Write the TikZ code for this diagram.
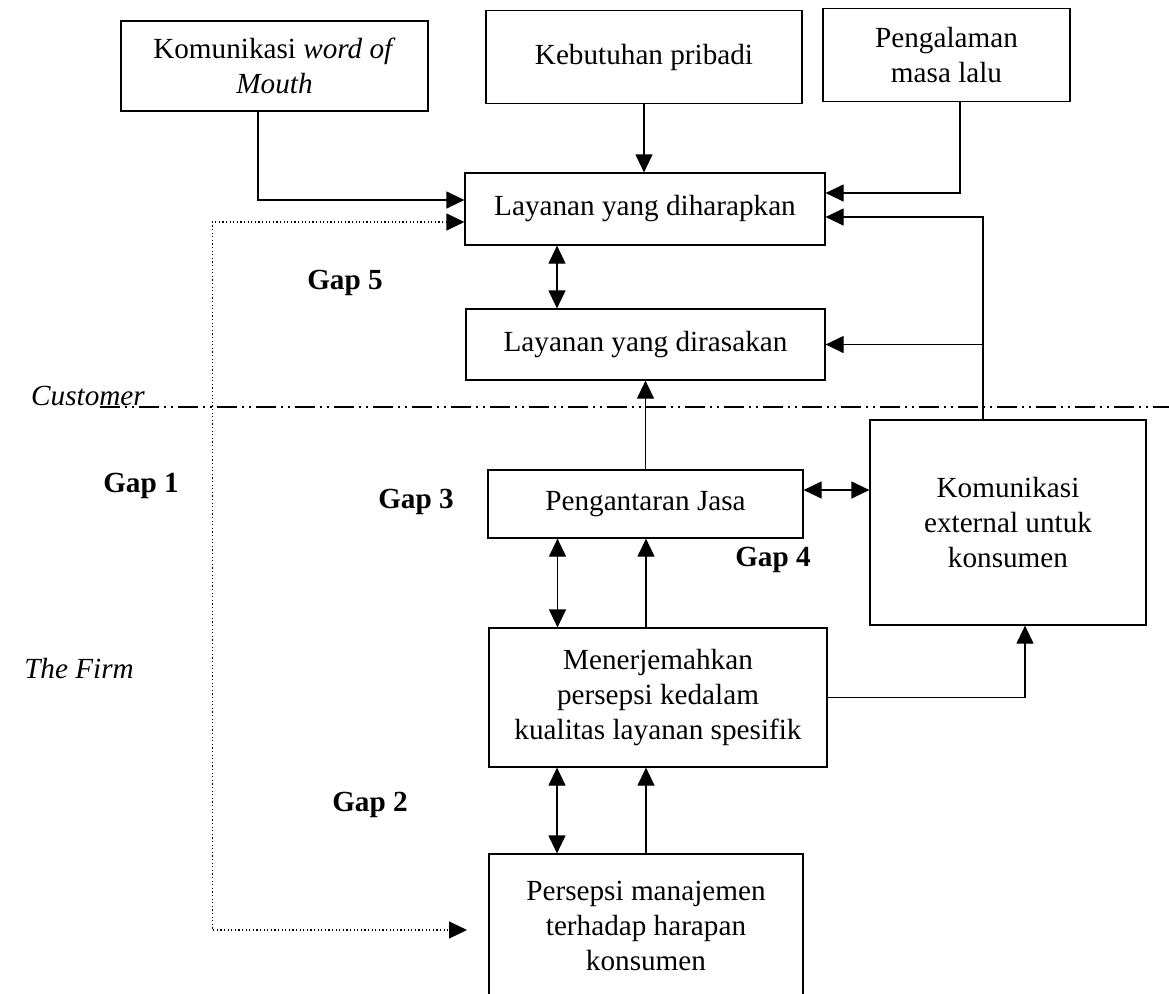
\documentclass[tikz,border=0pt]{standalone}
\usepackage{fontspec}
\setmainfont{Liberation Serif}
\usetikzlibrary{arrows.meta}

\newcommand{\boxfont}{\fontsize{14.6}{17.5}\selectfont}

\tikzset{
  box/.style={draw,line width=0.6pt,align=center,inner sep=0pt},
  sized/.style 2 args={minimum width=#1*0.5pt,minimum height=#2*0.5pt},
  tip/.tip={Triangle[length=9pt,width=8.5pt]},
  arr/.style={line width=0.6pt,-tip},
  dbl/.style={line width=0.6pt,tip-tip},
  dotarr/.style={line width=0.6pt,dash pattern=on 0.6pt off 1.2pt,tip-tip},
  sepline/.style={line width=0.6pt,dash pattern=on 10pt off 2.5pt on 1pt off 2.5pt on 1pt off 2.5pt},
  gaplbl/.style={font=\boxfont\bfseries},
  sidelbl/.style={font=\boxfont\itshape},
}

\begin{document}
\begin{tikzpicture}[x=0.5pt,y=-0.5pt,line join=miter,font=\boxfont]
  \useasboundingbox (0,0) rectangle (1169,993);

  % Harapan pelanggan
  \node[box,sized={307}{90}] (wom) at (274.5,66) {Komunikasi \textit{word of}\\\textit{Mouth}};
  \node[box,sized={316}{93}] (need) at (644,57) {Kebutuhan pribadi};
  \node[box,sized={247}{93}] (past) at (946.5,55) {Pengalaman\\masa lalu};
  \node[box,sized={360}{72}] (expect) at (645,209) {Layanan yang diharapkan};
  \node[box,sized={359}{71}] (perceive) at (645.5,344.5) {Layanan yang dirasakan};

  % Perusahaan
  \node[box,sized={315}{68}] (deliver) at (645.5,504) {Pengantaran Jasa};
  \node[box,sized={276}{205}] (extcom) at (1008,522.5) {Komunikasi\\external untuk\\konsumen};
  \node[box,sized={338}{139}] (translate) at (658,697.5) {Menerjemahkan\\persepsi kedalam\\kualitas layanan spesifik};
  \node[box,sized={314}{144}] (mgmt) at (646,926) {Persepsi manajemen\\terhadap harapan\\konsumen};
  \coordinate (mgmtin) at (467,930);
  \coordinate (extup) at ([xshift=-12.5pt]extcom.north);

  % Garis pemisah
  \node[sidelbl] (cust) at (88,396) {Customer};
  \node[sidelbl] (firm) at (79,668) {The Firm};
  \draw[sepline] (100,407) -- (1169,407);

  % Label gap
  \node[gaplbl] (gap5) at (345,283) {Gap 5};
  \node[gaplbl] (gap1) at (141,486) {Gap 1};
  \node[gaplbl] (gap3) at (416,502) {Gap 3};
  \node[gaplbl] (gap4) at (773,560) {Gap 4};
  \node[gaplbl] (gap2) at (370,805) {Gap 2};

  % Panah
  \draw[arr] ([xshift=-8.25pt]wom.south) |- ([yshift=4.5pt]expect.west);
  \draw[arr] (need.south) -- (need.south |- expect.north);
  \draw[arr] ([xshift=6.75pt]past.south) |- ([yshift=8pt]expect.east);
  \draw[arr] (extup) |- ([yshift=-4pt]expect.east);
  \draw[arr] (extup |- perceive.east) -- (perceive.east);
  \draw[dbl] ([xshift=-44pt]expect.south) -- ([xshift=-44pt]expect.south |- perceive.north);
  \draw[arr] (deliver.north) -- (deliver.north |- perceive.south);
  \draw[dbl] ([yshift=7pt]deliver.east) -- ([yshift=7pt]deliver.east -| extcom.west);
  \draw[dbl] ([xshift=-44pt]deliver.south) -- ([xshift=-44pt]deliver.south |- translate.north);
  \draw[arr] ([xshift=-6pt]translate.north) -- ([xshift=-6pt]translate.north |- deliver.south);
  \draw[arr] (translate.east) -| ([xshift=8.5pt]extcom.south);
  \draw[dbl] ([xshift=-50.5pt]translate.south) -- ([xshift=-50.5pt]translate.south |- mgmt.north);
  \draw[arr] (mgmt.north) -- (mgmt.north |- translate.south);
  \draw[dotarr] ([yshift=-6.5pt]expect.west) -- ++(-252,0) |- (mgmtin);
\end{tikzpicture}
\end{document}
